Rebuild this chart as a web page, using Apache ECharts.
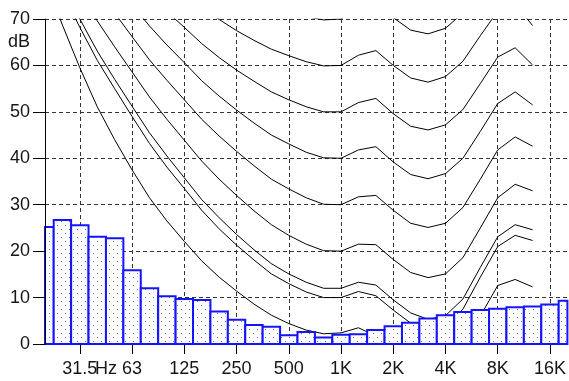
<!DOCTYPE html>
<html>
<head>
<meta charset="utf-8">
<script src="https://cdn.jsdelivr.net/npm/echarts@6/dist/echarts.min.js"></script>
<style>
html,body{margin:0;padding:0;background:#fff;}
#c{width:569px;height:381px;}
</style>
</head>
<body>
<div id="c"></div>
<script>
// 1/3-octave band centres (Hz)
const bands = ['20','25','31.5','40','50','63','80','100','125','160','200','250','315','400','500','630','800','1K','1.25K','1.6K','2K','2.5K','3.15K','4K','5K','6.3K','8K','10K','12.5K','16K','20K'];
// labelled ticks on the frequency axis
const tickLabels = ['31.5','63','125','250','500','1K','2K','4K','8K','16K'];
const unitLabel = 'Hz';
const levelUnit = 'dB';

// measured spectrum (dB), one bar per band
const spectrum = [25.2, 26.7, 25.6, 23.1, 22.8, 15.9, 12.0, 10.3, 9.7, 9.5, 7.0, 5.2, 4.1, 3.7, 1.9, 2.6, 1.4, 2.0, 2.1, 3.0, 3.8, 4.6, 5.5, 6.2, 6.9, 7.3, 7.6, 7.9, 8.1, 8.5, 9.3];

// contour curves (dB), bands 20 Hz .. 12.5 kHz
const threshold = [78.5, 68.7, 59.5, 51.1, 44.0, 37.5, 31.5, 26.5, 22.1, 17.9, 14.4, 11.4, 8.6, 6.2, 4.4, 3.0, 2.2, 2.4, 3.5, 1.7, -1.3, -4.2, -6.0, -5.4, -1.5, 6.0, 12.6, 13.9, 12.3];
const curve10 = [83.7, 75.8, 68.2, 61.1, 55.0, 49.0, 43.2, 38.1, 33.5, 28.8, 24.8, 21.3, 18.1, 15.1, 13.0, 11.2, 10.0, 10.0, 11.3, 10.4, 7.3, 4.5, 3.0, 3.8, 7.5, 14.4, 21.0, 23.4, 22.3];
const curve12 = [85.0, 77.3, 70.0, 63.1, 57.0, 51.2, 45.5, 40.5, 35.8, 31.1, 27.2, 23.6, 20.3, 17.3, 15.1, 13.3, 12.0, 12.0, 13.3, 12.7, 9.5, 6.7, 5.3, 6.1, 9.7, 16.5, 23.1, 25.7, 24.6];
const curve20 = [89.6, 82.6, 76.0, 69.6, 64.0, 58.6, 53.2, 48.4, 43.9, 39.4, 35.5, 32.0, 28.7, 25.7, 23.4, 21.5, 20.1, 20.0, 21.5, 21.4, 18.2, 15.4, 14.3, 15.1, 18.6, 25.0, 31.5, 34.4, 33.0];
const curve30 = [94.9, 88.5, 82.4, 76.5, 71.3, 66.2, 61.2, 56.8, 52.6, 48.4, 44.8, 41.5, 38.4, 35.5, 33.4, 31.5, 30.1, 30.0, 31.7, 32.0, 28.8, 26.0, 25.1, 26.0, 29.4, 35.5, 41.8, 44.6, 42.6];
const curve40 = [99.9, 93.9, 88.2, 82.6, 77.8, 73.1, 68.5, 64.4, 60.6, 56.7, 53.4, 50.4, 47.6, 45.0, 43.1, 41.3, 40.1, 40.0, 41.8, 42.5, 39.2, 36.5, 35.6, 36.7, 40.0, 45.8, 51.8, 54.3, 51.5];
const curve50 = [104.7, 99.1, 93.7, 88.5, 84.0, 79.6, 75.4, 71.6, 68.2, 64.7, 61.7, 59.0, 56.6, 54.3, 52.6, 51.1, 50.0, 50.0, 52.0, 52.9, 49.6, 46.9, 46.1, 47.2, 50.5, 56.1, 61.8, 63.8, 60.1];
const curve60 = [109.5, 104.2, 99.1, 94.2, 90.0, 85.9, 82.1, 78.7, 75.6, 72.5, 69.9, 67.5, 65.4, 63.5, 62.1, 60.8, 59.9, 60.0, 62.2, 63.2, 60.0, 57.3, 56.4, 57.6, 60.9, 66.4, 71.7, 73.2, 68.6];
const curve70 = [114.3, 109.3, 104.4, 99.8, 95.9, 92.2, 88.6, 85.6, 82.9, 80.2, 77.9, 75.9, 74.2, 72.6, 71.5, 70.5, 69.8, 70.0, 72.3, 73.5, 70.3, 67.6, 66.8, 68.0, 71.3, 76.6, 81.5, 82.5, 77.0];

const curves = [threshold, curve10, curve12, curve20, curve30, curve40, curve50, curve60, curve70];

const FONT = '"Liberation Sans", Arial, sans-serif';
const TXT = '#161616';

// dotted fill pattern for the bars
const tile = document.createElement('canvas');
tile.width = 8; tile.height = 8;
const g = tile.getContext('2d');
g.fillStyle = '#ffffff'; g.fillRect(0, 0, 8, 8);
g.fillStyle = '#5a68ff';
g.fillRect(1, 1, 1, 1);
g.fillRect(5, 5, 1, 1);
const pattern = { image: tile, repeat: 'repeat' };

const showTick = (i, v) => tickLabels.indexOf(v) >= 0;
const dash = { type: [4, 3], color: '#333', width: 1 };

const chart = echarts.init(document.getElementById('c'), null, { renderer: 'canvas' });

const series = curves.map(d => ({
  type: 'line', data: d, symbol: 'none', silent: true, z: 2,
  lineStyle: { color: '#000', width: 1 }
}));

// bars drawn through the axes' scales, clipped to the plot area
series.push({
  type: 'custom', z: 3, silent: true,
  data: spectrum.map((v, i) => [i, v]),
  encode: { x: 0, y: 1 },
  renderItem: function (params, api) {
    const idx = api.value(0);
    const top = api.coord([idx, api.value(1)]);
    const bot = api.coord([idx, 0]);
    const w = api.size([1, 0])[0];
    const cs = params.coordSys;
    const rect = echarts.graphic.clipRectByRect(
      { x: top[0] - w / 2, y: top[1], width: w, height: bot[1] - top[1] },
      { x: cs.x, y: cs.y, width: cs.width, height: cs.height }
    );
    if (!rect) return null;
    return {
      type: 'rect', shape: rect,
      style: { fill: pattern, stroke: '#1414ff', lineWidth: 2 }
    };
  }
});

chart.setOption({
  animation: false,
  grid: { left: 45, right: 0, top: 19, bottom: 37 },
  xAxis: {
    type: 'category', data: bands, boundaryGap: false,
    axisLine: { lineStyle: { color: '#000', width: 1 } },
    axisTick: { length: 10, interval: showTick, lineStyle: { color: '#000' } },
    axisLabel: { interval: showTick, margin: 16, fontSize: 18, color: TXT, fontFamily: FONT },
    splitLine: { show: true, interval: showTick, lineStyle: dash }
  },
  yAxis: [{
    type: 'value', min: 0, max: 70, interval: 10,
    axisLine: { show: false }, axisTick: { show: false }, axisLabel: { show: false },
    splitLine: { show: true, lineStyle: dash }
  }, {
    type: 'value', min: 0, max: 70, interval: 10, position: 'left', z: 10,
    axisLine: { show: true, lineStyle: { color: '#000', width: 1 } },
    axisTick: { show: true, length: 12, lineStyle: { color: '#000' } },
    axisLabel: { margin: 15, fontSize: 18, color: TXT, fontFamily: FONT },
    splitLine: { show: false }
  }],
  series: series
});

const xa = chart.convertToPixel({ xAxisIndex: 0 }, '40');
const xb = chart.convertToPixel({ xAxisIndex: 0 }, '50');
const y0 = chart.convertToPixel({ yAxisIndex: 0 }, 0);
const yDb = chart.convertToPixel({ yAxisIndex: 0 }, 65);
const xLeft = chart.convertToPixel({ xAxisIndex: 0 }, '20');

chart.setOption({
  graphic: [
    { type: 'text', x: (xa + xb) / 2, y: y0 + 16, z: 20,
      style: { text: unitLabel, fontSize: 18, fontFamily: FONT, fill: TXT, align: 'center', verticalAlign: 'top' } },
    { type: 'text', x: xLeft - 15, y: yDb, z: 20,
      style: { text: levelUnit, fontSize: 18, fontFamily: FONT, fill: TXT, align: 'right', verticalAlign: 'middle' } }
  ]
});
</script>
</body>
</html>
